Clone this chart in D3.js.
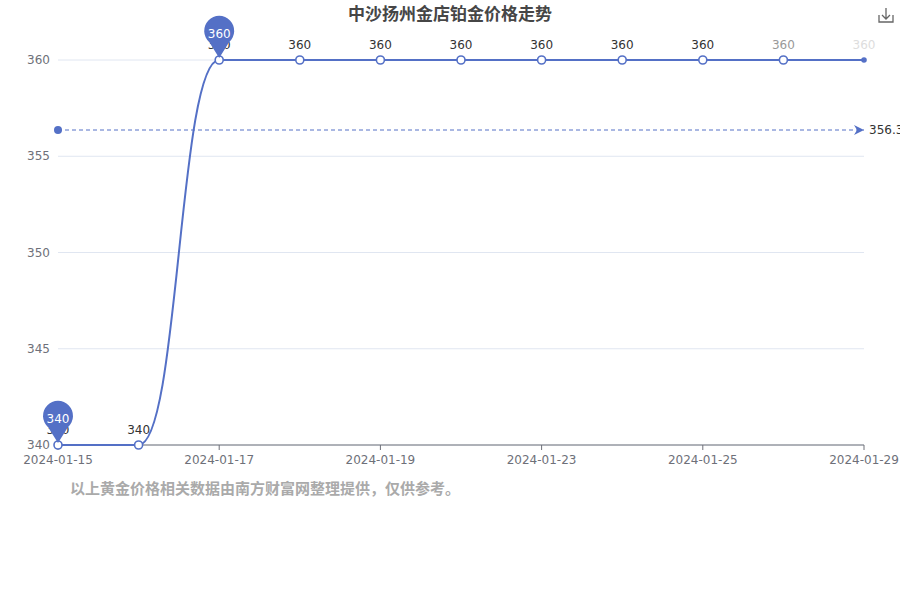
<!DOCTYPE html>
<html><head><meta charset="utf-8">
<script src="https://cdn.jsdelivr.net/npm/d3@7"></script>
<style>body{margin:0;background:#fff;font-family:"Noto Sans CJK SC","DejaVu Sans",sans-serif}</style>
</head><body><svg width="900" height="600"></svg>
<script>
const dates = ["2024-01-15","2024-01-16","2024-01-17","2024-01-18","2024-01-19","2024-01-22","2024-01-23","2024-01-24","2024-01-25","2024-01-26","2024-01-29"];
const prices = [340,340,360,360,360,360,360,360,360,360,360];
const yTicks = [340,345,350,355,360];
const color = "#5470c6";

const svg = d3.select("svg");
const x = d3.scalePoint().domain(dates).range([58,864]);
const y = d3.scaleLinear().domain([340,360]).range([445,60]);
const font = "DejaVu Sans, sans-serif";

svg.append("text").attr("x",450).attr("y",20).attr("text-anchor","middle")
  .attr("font-size",17).attr("font-weight","bold").attr("fill","#464646")
  .attr("font-family","Noto Sans CJK SC").text("中沙扬州金店铂金价格走势");

// download icon
const ic = svg.append("g").attr("stroke","#666").attr("fill","none").attr("stroke-width",1.3);
ic.append("path").attr("d","M879,15 v7 h14 v-7 M886,8 v11 M882,15 l4,4 l4,-4");

// grid + y axis labels
svg.selectAll(".grid").data(yTicks).join("line")
  .attr("x1",58).attr("x2",864).attr("y1",d=>y(d)).attr("y2",d=>y(d))
  .attr("stroke","#e0e6f1");
svg.selectAll(".yl").data(yTicks).join("text")
  .attr("x",50).attr("y",d=>y(d)+4).attr("text-anchor","end")
  .attr("font-size",12).attr("fill","#6e7079").attr("font-family",font).text(d=>d);

// x axis
svg.append("line").attr("x1",58).attr("x2",864).attr("y1",445).attr("y2",445).attr("stroke","#6e7079");
const shown = dates.filter((d,i)=>i%2===0);
svg.selectAll(".xt").data(shown).join("line")
  .attr("x1",d=>x(d)).attr("x2",d=>x(d)).attr("y1",445).attr("y2",450).attr("stroke","#6e7079");
svg.selectAll(".xl").data(shown).join("text")
  .attr("x",d=>x(d)).attr("y",464).attr("text-anchor","middle")
  .attr("font-size",12).attr("fill","#6e7079").attr("font-family",font).text(d=>d);

// line
const pts = dates.map((d,i)=>({d,v:prices[i],i}));
svg.append("path").datum(pts)
  .attr("d",d3.line().x(p=>x(p.d)).y(p=>y(p.v)).curve(d3.curveBumpX))
  .attr("fill","none").attr("stroke",color).attr("stroke-width",2);

// average markline
const avg = d3.mean(prices);
svg.append("defs").append("marker").attr("id","arr").attr("viewBox","0 0 10 10")
  .attr("refX",10).attr("refY",5).attr("markerWidth",16).attr("markerHeight",10)
  .attr("markerUnits","userSpaceOnUse").attr("orient","auto")
  .append("path").attr("d","M0,0 L10,5 L0,10 L3,5 Z").attr("fill",color);
svg.append("line").attr("x1",58).attr("x2",864).attr("y1",y(avg)).attr("y2",y(avg))
  .attr("stroke",color).attr("stroke-dasharray","4,3").attr("marker-end","url(#arr)");
svg.append("circle").attr("cx",58).attr("cy",y(avg)).attr("r",4).attr("fill",color);
svg.append("text").attr("x",869).attr("y",y(avg)+4).attr("font-size",12)
  .attr("fill","#333").attr("font-family",font).text(avg.toFixed(2));

// points
const last = pts.length-1;
svg.selectAll(".pt").data(pts).join("circle")
  .attr("cx",p=>x(p.d)).attr("cy",p=>y(p.v)).attr("r",p=>p.i===last?2:4)
  .attr("fill",p=>p.i===last?color:"#fff").attr("stroke",color).attr("stroke-width",1.6);
svg.selectAll(".lbl").data(pts).join("text")
  .attr("x",p=>x(p.d)).attr("y",p=>y(p.v)-11).attr("text-anchor","middle")
  .attr("font-size",12).attr("font-family",font)
  .attr("fill",p=>p.i===last?"#ddd":p.i===last-1?"#999":"#333").text(p=>p.v);

// mark pins (max & min)
const maxI = prices.indexOf(d3.max(prices)), minI = prices.indexOf(d3.min(prices));
[maxI,minI].forEach(i=>{
  const cx = x(dates[i]), cy = y(prices[i]);
  const g = svg.append("g").attr("transform",`translate(${cx},${cy})`);
  g.append("path").attr("d","M0,-2 L-10,-18 A15,15 0 1 1 10,-18 Z").attr("fill",color);
  g.append("text").attr("y",-22).attr("text-anchor","middle").attr("font-size",12)
    .attr("fill","#fff").attr("font-family",font).text(prices[i]);
});

svg.append("text").attr("x",70).attr("y",494).attr("font-size",15).attr("font-weight","bold")
  .attr("fill","#aaa").attr("font-family","Noto Sans CJK SC")
  .text("以上黄金价格相关数据由南方财富网整理提供，仅供参考。");
</script></body></html>
